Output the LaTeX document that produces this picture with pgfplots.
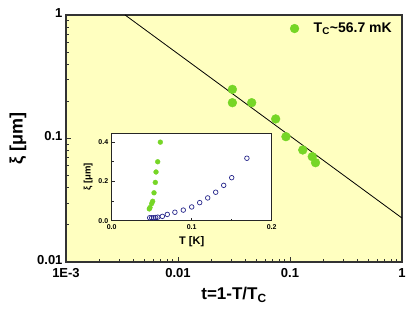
\documentclass[border=0pt]{standalone}
\usepackage{pgfplots}
\pgfplotsset{compat=1.18}
\usepackage{fontspec}
\setmainfont{Liberation Sans}
\definecolor{bgyellow}{RGB}{255,255,192}
\definecolor{limegreen}{RGB}{118,214,38}
\definecolor{navyblue}{RGB}{40,40,140}
\begin{document}
\begin{tikzpicture}[font=\bfseries]
\useasboundingbox (-66pt,-59pt) rectangle (349pt,262pt);
% main plot: xi vs reduced temperature
\begin{axis}[
  at={(0pt,0pt)}, anchor=south west,
  scale only axis, width=336pt, height=247pt,
  xmode=log, ymode=log,
  xmin=1e-3, xmax=1, ymin=0.01, ymax=1,
  axis background/.style={fill=bgyellow},
  axis line style={draw=black!80, line width=1.3pt},
  tick pos=left, tick align=inside,
  major tick length=5pt, minor tick length=3pt,
  tick style={black!80, line width=0.8pt},
  xtick={0.001,0.01,0.1,1}, xticklabels={1E-3,0.01,0.1,1},
  ytick={0.01,0.1,1}, yticklabels={0.01,0.1,1},
  ticklabel style={font=\bfseries\fontsize{13}{13}\selectfont},
  x tick label style={yshift=-3pt},
  y tick label style={yshift=2pt},
  xlabel={t=1-T/T\textsubscript{C}},
  ylabel={ξ [μm]},
  xlabel style={font=\bfseries\fontsize{17}{17}\selectfont, yshift=-3pt},
  ylabel style={font=\bfseries\fontsize{18}{18}\selectfont, yshift=4pt},
  legend style={draw=none, fill=none, at={(0.985,0.985)}, anchor=north east,
    font=\bfseries\fontsize{14}{16}\selectfont},
  legend cell align=left,
]
  \addplot[only marks, mark=*, mark size=4.4pt, color=limegreen,
    legend image code/.code={\draw[##1] plot coordinates {(0pt,0pt)}; \path (17pt,0pt);}] coordinates {
    (0.0306,0.25) (0.0306,0.195) (0.0455,0.195) (0.0745,0.144)
    (0.092,0.1035) (0.130,0.0807) (0.158,0.0713) (0.169,0.0637)
  };
  \addlegendentry{T\textsubscript{C}\textasciitilde 56.7 mK}
  \addplot[black, line width=0.8pt, forget plot] coordinates {(0.00337,1) (1,0.0227)};
\end{axis}
% inset: xi vs T
\begin{axis}[
  at={(45.7pt,41.3pt)}, anchor=south west,
  scale only axis, width=160pt, height=87.4pt,
  xmin=0, xmax=0.2, ymin=0, ymax=0.445,
  axis background/.style={fill=white},
  axis line style={draw=black!85, line width=1pt},
  tick pos=left, tick align=inside,
  major tick length=3pt, minor tick length=2pt,
  minor tick num=1,
  tick style={black!85, line width=0.6pt},
  xtick={0,0.1,0.2}, xticklabels={0.0,0.1,0.2},
  ytick={0,0.2,0.4}, yticklabels={0.0,0.2,0.4},
  ticklabel style={font=\bfseries\fontsize{7}{7}\selectfont},
  xlabel={T [K]}, ylabel={ξ [μm]},
  xlabel style={font=\bfseries\fontsize{11}{11}\selectfont, yshift=0pt},
  ylabel style={font=\bfseries\fontsize{9.5}{9.5}\selectfont, yshift=-1pt},
]
  \addplot[only marks, mark=*, mark size=2.4pt, color=limegreen] coordinates {
    (0.0608,0.40) (0.0575,0.30) (0.0554,0.248) (0.0545,0.195) (0.0529,0.142)
    (0.0512,0.099) (0.0500,0.087) (0.0479,0.067) (0.0470,0.060)
  };
  \addplot[only marks, mark=o, mark size=2.3pt, color=navyblue, line width=0.7pt] coordinates {
    (0.0475,0.015) (0.0500,0.015) (0.0525,0.015) (0.0550,0.016) (0.0575,0.018)
    (0.0633,0.022) (0.0695,0.032) (0.079,0.043) (0.0895,0.054) (0.100,0.070)
    (0.110,0.092) (0.120,0.116) (0.130,0.145) (0.140,0.180) (0.150,0.219)
    (0.169,0.318)
  };
\end{axis}
\end{tikzpicture}
\end{document}
